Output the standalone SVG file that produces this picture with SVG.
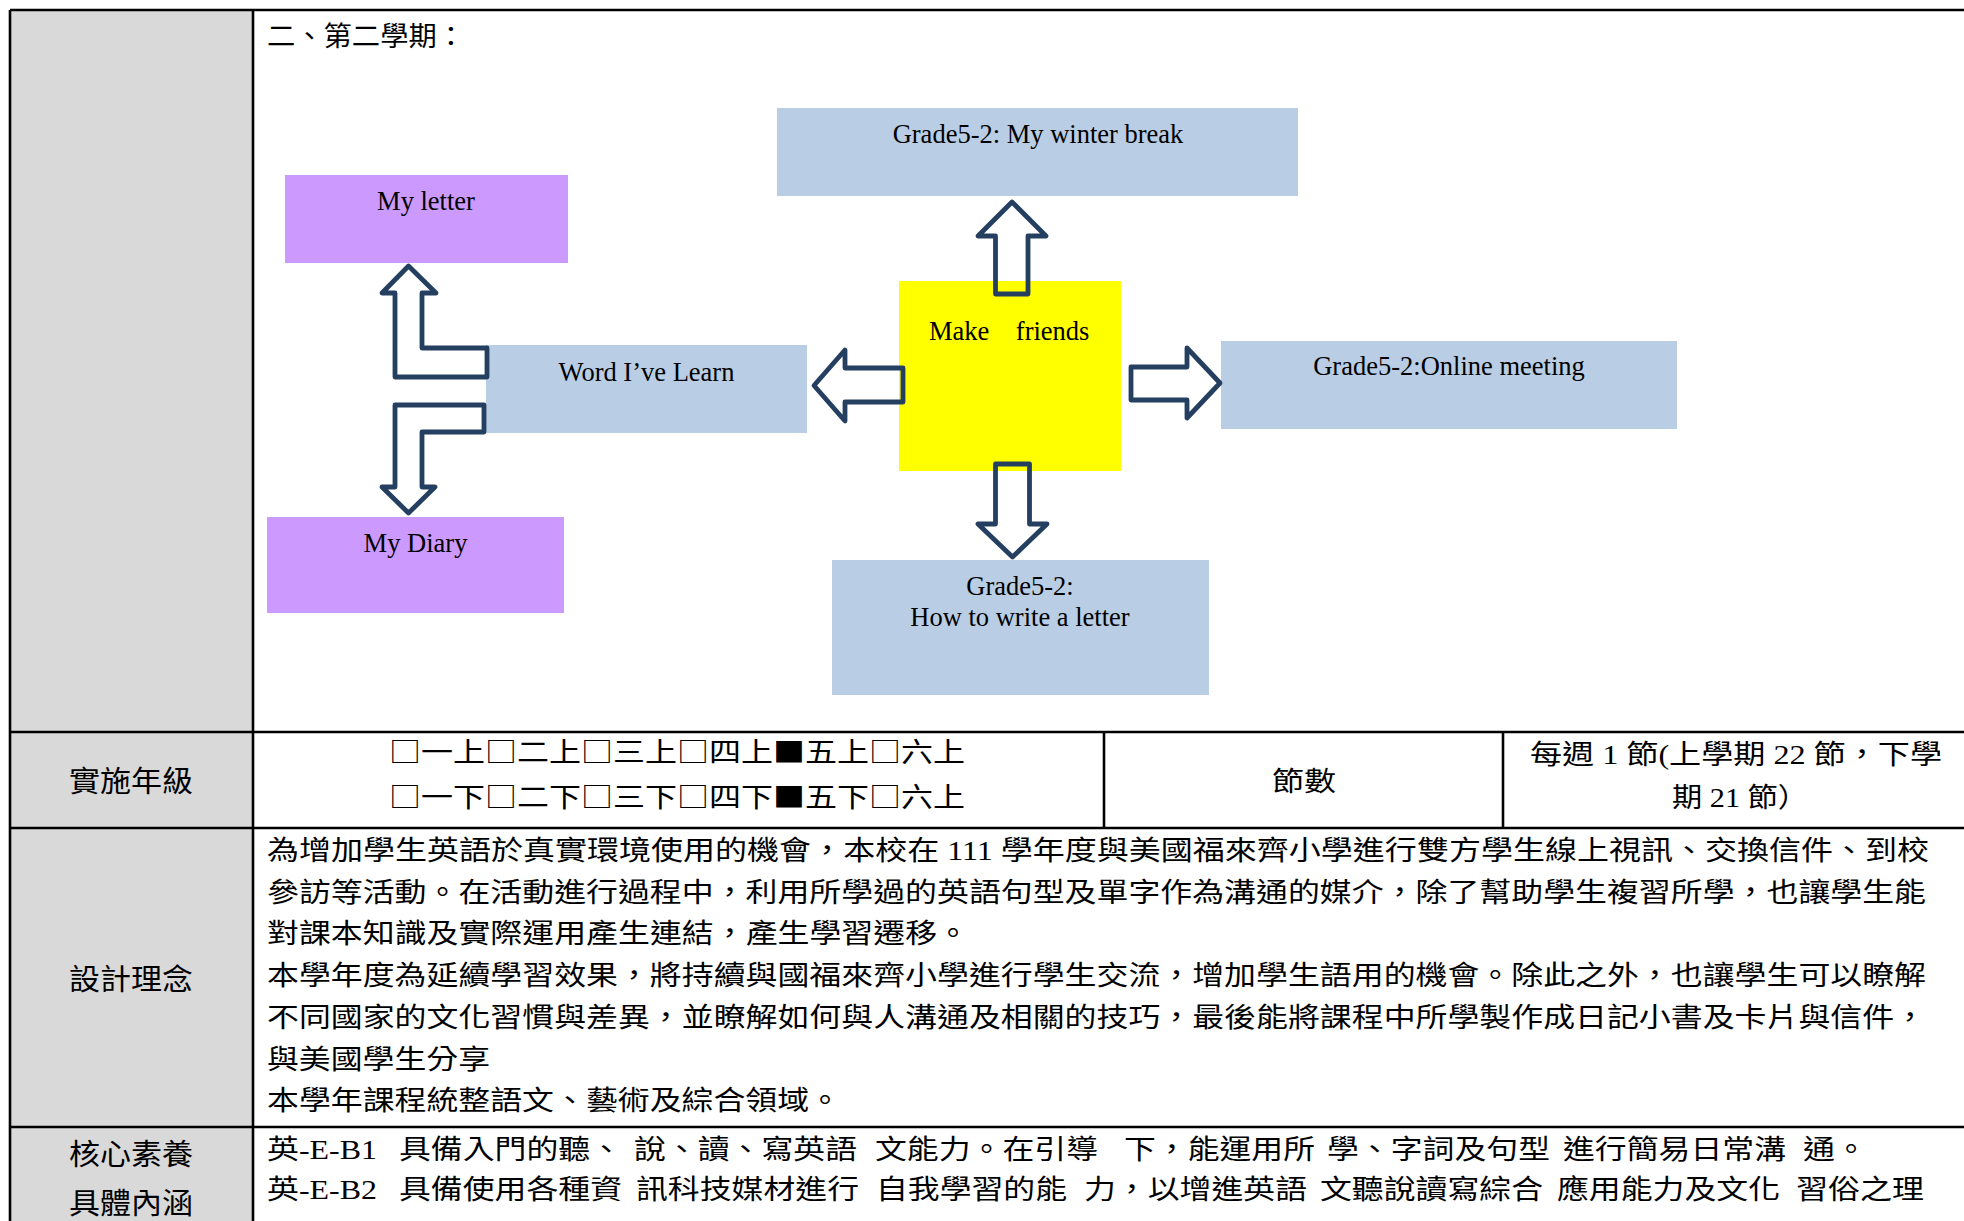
<svg xmlns="http://www.w3.org/2000/svg" width="1964" height="1221" viewBox="0 0 1964 1221">
<style>
.zh { font-family: 'Liberation Serif','Noto Sans CJK TC',serif; font-size:27px; fill:#000; }
.box { font-family: 'Noto Sans CJK TC',sans-serif; font-size:27px; fill:#000; }
.lbl { font-family: 'Noto Sans CJK TC',sans-serif; font-size:29px; fill:#000; }
.en { font-family: 'Liberation Serif',serif; font-size:26.5px; fill:#000; text-anchor:middle; }
.arrow { fill:none; stroke:#243F60; stroke-width:4.8; stroke-linejoin:round; }
.grid { stroke:#000; stroke-width:2.6; fill:none; }
.blue { fill:#B9CDE5; }
.purple { fill:#CC99FF; }
</style>
<rect x="0" y="0" width="1964" height="1221" fill="#FFFFFF"/>
<g id="table">
  <rect x="10" y="10" width="243" height="1211" fill="#D9D9D9"/>
  <line class="grid" x1="10" y1="10" x2="1964" y2="10"/>
  <line class="grid" x1="10" y1="10" x2="10" y2="1221"/>
  <line class="grid" x1="253" y1="10" x2="253" y2="1221"/>
  <line class="grid" x1="10" y1="732" x2="1964" y2="732"/>
  <line class="grid" x1="10" y1="828" x2="1964" y2="828"/>
  <line class="grid" x1="10" y1="1127" x2="1964" y2="1127"/>
  <line class="grid" x1="1104" y1="732" x2="1104" y2="828"/>
  <line class="grid" x1="1503" y1="732" x2="1503" y2="828"/>
</g>
<g id="title">
  <text class="box" x="267" y="46" textLength="198" lengthAdjust="spacingAndGlyphs">二、第二學期：</text>
</g>
<g id="n-winter">
  <rect class="blue" x="777" y="108" width="521" height="88"/>
  <text class="en" x="1038" y="143">Grade5-2: My winter break</text>
</g>
<g id="n-letter">
  <rect class="purple" x="285" y="175" width="283" height="88"/>
  <text class="en" x="426" y="210">My letter</text>
</g>
<g id="n-word">
  <rect class="blue" x="486" y="345" width="321" height="88"/>
  <text class="en" x="646.5" y="381">Word I’ve Learn</text>
</g>
<g id="n-make">
  <rect x="899" y="281" width="222" height="190" fill="#FFFF00"/>
  <text class="en" x="929" y="340" style="text-anchor:start" xml:space="preserve">Make    friends</text>
</g>
<g id="n-online">
  <rect class="blue" x="1221" y="341" width="456" height="88"/>
  <text class="en" x="1449" y="375">Grade5-2:Online meeting</text>
</g>
<g id="n-diary">
  <rect class="purple" x="267" y="517" width="297" height="96"/>
  <text class="en" x="415.5" y="552">My Diary</text>
</g>
<g id="n-howto">
  <rect class="blue" x="832" y="560" width="377" height="135"/>
  <text class="en" x="1020" y="595">Grade5-2:</text>
  <text class="en" x="1020" y="626">How to write a letter</text>
</g>
<g id="connectors">
  <path class="arrow" d="M1012 202 L1046 236 L1028 236 L1028 294 L995.5 294 L995.5 236 L978 236 Z"/>
  <path class="arrow" d="M995.5 464 L1029.5 464 L1029.5 524 L1047 524 L1012.5 557 L978 524 L995.5 524 Z"/>
  <path class="arrow" d="M814 385.5 L845 350 L845 368 L903 368 L903 402 L845 402 L845 421 Z"/>
  <path class="arrow" d="M1131 367 L1187 367 L1187 348 L1220 383 L1187 418 L1187 400 L1131 400 Z"/>
  <path class="arrow" d="M408.5 266 L436 293 L422 293 L422 348 L487 348 L487 377 L395 377 L395 293 L382 293 Z"/>
  <path class="arrow" d="M484 405 L395 405 L395 487 L382 487 L408.5 513 L435 487 L422 487 L422 432 L484 432 Z"/>
</g>
<g id="row-grade">
  <text class="lbl" x="69" y="792" textLength="124" lengthAdjust="spacingAndGlyphs">實施年級</text>
  <text class="box" x="389" y="762" textLength="576" lengthAdjust="spacingAndGlyphs">□一上□二上□三上□四上■五上□六上</text>
  <text class="box" x="389" y="807" textLength="576" lengthAdjust="spacingAndGlyphs">□一下□二下□三下□四下■五下□六上</text>
  <text class="box" x="1272" y="791" textLength="64" lengthAdjust="spacingAndGlyphs">節數</text>
  <text class="zh" x="1530" y="764" textLength="412" lengthAdjust="spacingAndGlyphs" xml:space="preserve">每週 1 節(上學期 22 節，下學</text>
  <text class="zh" x="1740" y="806.5" style="text-anchor:middle" textLength="136" lengthAdjust="spacingAndGlyphs" xml:space="preserve">期 21 節）</text>
</g>
<g id="row-design">
  <text class="lbl" x="69" y="990" textLength="124" lengthAdjust="spacingAndGlyphs">設計理念</text>
  <text class="zh" x="267" y="860" textLength="1662" lengthAdjust="spacingAndGlyphs" xml:space="preserve">為增加學生英語於真實環境使用的機會，本校在 111 學年度與美國福來齊小學進行雙方學生線上視訊、交換信件、到校</text>
  <text class="zh" x="267" y="901.7" textLength="1659" lengthAdjust="spacingAndGlyphs">參訪等活動。在活動進行過程中，利用所學過的英語句型及單字作為溝通的媒介，除了幫助學生複習所學，也讓學生能</text>
  <text class="zh" x="267" y="943.4" textLength="702" lengthAdjust="spacingAndGlyphs">對課本知識及實際運用產生連結，產生學習遷移。</text>
  <text class="zh" x="267" y="985.1" textLength="1659" lengthAdjust="spacingAndGlyphs">本學年度為延續學習效果，將持續與國福來齊小學進行學生交流，增加學生語用的機會。除此之外，也讓學生可以瞭解</text>
  <text class="zh" x="267" y="1026.8" textLength="1659" lengthAdjust="spacingAndGlyphs">不同國家的文化習慣與差異，並瞭解如何與人溝通及相關的技巧，最後能將課程中所學製作成日記小書及卡片與信件，</text>
  <text class="zh" x="267" y="1068.5" textLength="223" lengthAdjust="spacingAndGlyphs">與美國學生分享</text>
  <text class="zh" x="267" y="1110.2" textLength="574" lengthAdjust="spacingAndGlyphs">本學年課程統整語文、藝術及綜合領域。</text>
</g>
<g id="row-core">
  <text class="lbl" x="69" y="1165" textLength="124" lengthAdjust="spacingAndGlyphs">核心素養</text>
  <text class="lbl" x="69" y="1214" textLength="124" lengthAdjust="spacingAndGlyphs">具體內涵</text>
  <text class="zh" x="267" y="1159" textLength="110" lengthAdjust="spacingAndGlyphs">英-E-B1</text>
  <text class="zh" x="399" y="1159" textLength="223" lengthAdjust="spacingAndGlyphs">具備入門的聽、</text>
  <text class="zh" x="634" y="1159" textLength="223" lengthAdjust="spacingAndGlyphs">說、讀、寫英語</text>
  <text class="zh" x="875" y="1159" textLength="223" lengthAdjust="spacingAndGlyphs">文能力。在引導</text>
  <text class="zh" x="1124" y="1159" textLength="191" lengthAdjust="spacingAndGlyphs">下，能運用所</text>
  <text class="zh" x="1327" y="1159" textLength="223" lengthAdjust="spacingAndGlyphs">學、字詞及句型</text>
  <text class="zh" x="1563" y="1159" textLength="223" lengthAdjust="spacingAndGlyphs">進行簡易日常溝</text>
  <text class="zh" x="1803" y="1159" textLength="64" lengthAdjust="spacingAndGlyphs">通。</text>
  <text class="zh" x="267" y="1199" textLength="110" lengthAdjust="spacingAndGlyphs">英-E-B2</text>
  <text class="zh" x="399" y="1199" textLength="223" lengthAdjust="spacingAndGlyphs">具備使用各種資</text>
  <text class="zh" x="636" y="1199" textLength="223" lengthAdjust="spacingAndGlyphs">訊科技媒材進行</text>
  <text class="zh" x="876" y="1199" textLength="191" lengthAdjust="spacingAndGlyphs">自我學習的能</text>
  <text class="zh" x="1084" y="1199" textLength="223" lengthAdjust="spacingAndGlyphs">力，以增進英語</text>
  <text class="zh" x="1320" y="1199" textLength="223" lengthAdjust="spacingAndGlyphs">文聽說讀寫綜合</text>
  <text class="zh" x="1557" y="1199" textLength="223" lengthAdjust="spacingAndGlyphs">應用能力及文化</text>
  <text class="zh" x="1796" y="1199" textLength="128" lengthAdjust="spacingAndGlyphs">習俗之理</text>
</g>
</svg>
